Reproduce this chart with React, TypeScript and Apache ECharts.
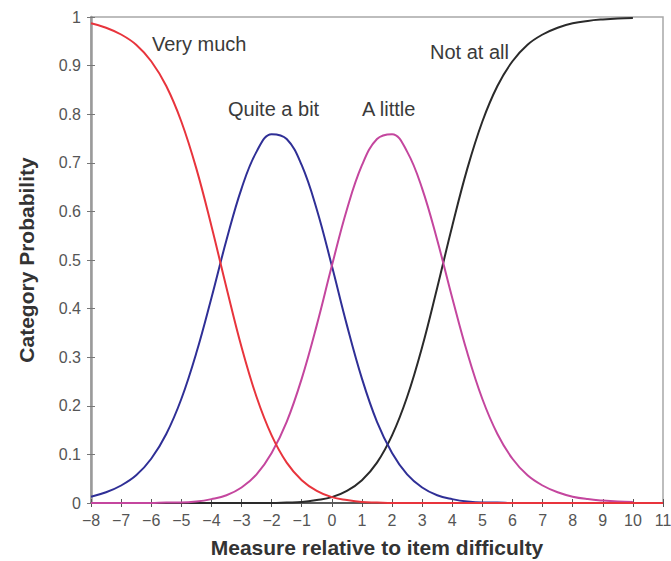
import React, { useEffect, useRef } from "react";
import * as echarts from "echarts";

const xs = [-8, -7.5, -7, -6.5, -6, -5.5, -5, -4.5, -4, -3.5, -3, -2.5, -2, -1.5, -1, -0.5, 0, 0.5, 1, 1.5, 2, 2.5, 3, 3.5, 4, 4.5, 5, 5.5, 6, 6.5, 7, 7.5, 8, 8.5, 9, 9.5, 10, 10.5, 11];

const veryMuch = [0.987, 0.978, 0.964, 0.943, 0.909, 0.858, 0.785, 0.688, 0.57, 0.443, 0.321, 0.218, 0.139, 0.083, 0.047, 0.025, 0.012, 0.006, 0.002, 0.001, 0, 0, 0, 0, 0, 0, 0, 0, 0, 0, 0, 0, 0, 0, 0, 0, 0, 0, 0];
const quiteABit = [0.013, 0.022, 0.036, 0.057, 0.091, 0.142, 0.214, 0.309, 0.422, 0.541, 0.647, 0.723, 0.759, 0.749, 0.695, 0.604, 0.488, 0.366, 0.256, 0.167, 0.103, 0.059, 0.032, 0.016, 0.008, 0.003, 0.001, 0.001, 0, 0, 0, 0, 0, 0, 0, 0, 0, 0, 0];
const aLittle = [0, 0, 0, 0, 0, 0.001, 0.001, 0.003, 0.008, 0.016, 0.032, 0.059, 0.103, 0.167, 0.256, 0.366, 0.488, 0.604, 0.695, 0.749, 0.759, 0.723, 0.647, 0.541, 0.422, 0.309, 0.214, 0.142, 0.091, 0.057, 0.036, 0.022, 0.013, 0.008, 0.005, 0.003, 0.002, null, null];
const notAtAll = [0, 0, 0, 0, 0, 0, 0, 0, 0, 0, 0, 0, 0, 0.001, 0.002, 0.006, 0.012, 0.025, 0.047, 0.083, 0.139, 0.218, 0.321, 0.443, 0.57, 0.688, 0.785, 0.858, 0.909, 0.943, 0.964, 0.978, 0.987, 0.992, 0.995, 0.997, 0.998, null, null];

const seriesNames = ["Not at all", "Quite a bit", "A little", "Very much"];
const seriesValues = [notAtAll, quiteABit, aLittle, veryMuch];
const seriesColors = ["#2a2a2a", "#2f2f96", "#c4469e", "#e8343c"];

const FONT = "Liberation Sans, Arial, sans-serif";

export default function App() {
  const ref = useRef<HTMLDivElement>(null);
  useEffect(() => {
    if (!ref.current) return;
    const chart = echarts.init(ref.current, null, { renderer: "svg" });
    const fmtX = (v: number) => String(v).replace("-", "\u2212");
    const fmtY = (v: number) => String(Math.round(v * 10) / 10);
    const labelStyle = { fontFamily: FONT, fontSize: 20, fill: "#3a3a3a" };
    chart.setOption({
      animation: false,
      backgroundColor: "#ffffff",
      grid: {
        left: 91,
        right: 8,
        top: 17,
        bottom: 58,
        outerBoundsMode: "none",
        containLabel: false,
        show: true,
        borderColor: "#a8a8a8",
        borderWidth: 1.5,
        backgroundColor: "#ffffff",
      },
      xAxis: [
        {
          type: "value",
          min: -8,
          max: 11,
          interval: 1,
          name: "Measure relative to item difficulty",
          nameLocation: "middle",
          nameGap: 34,
          nameTextStyle: { fontFamily: FONT, fontSize: 21, fontWeight: "bold", color: "#333" },
          axisLine: { show: true, onZero: false, lineStyle: { color: "#3a3a3a", width: 1.5 } },
          axisTick: { show: true, length: 4, lineStyle: { color: "#555" } },
          axisLabel: { formatter: fmtX, fontFamily: FONT, fontSize: 16, color: "#555", margin: 9, hideOverlap: false },
          splitLine: { show: false },
        },
        {
          type: "value",
          min: -8,
          max: 11,
          interval: 1,
          position: "bottom",
          axisLine: { show: false, onZero: false },
          axisTick: { show: true, inside: true, length: 4, lineStyle: { color: "#555" } },
          axisLabel: { show: false },
          splitLine: { show: false },
        },
      ],
      yAxis: [
        {
          type: "value",
          min: 0,
          max: 1,
          interval: 0.1,
          name: "Category Probability",
          nameLocation: "middle",
          nameGap: 54,
          nameRotate: 90,
          nameTextStyle: { fontFamily: FONT, fontSize: 21, fontWeight: "bold", color: "#333" },
          axisLine: { show: true, onZero: false, lineStyle: { color: "#9a9a9a", width: 2.5 } },
          axisTick: { show: true, length: 4, lineStyle: { color: "#777" } },
          axisLabel: { formatter: fmtY, fontFamily: FONT, fontSize: 16, color: "#555", margin: 10 },
          splitLine: { show: false },
        },
        {
          type: "value",
          min: 0,
          max: 1,
          interval: 0.1,
          position: "left",
          axisLine: { show: false, onZero: false },
          axisTick: { show: true, inside: true, length: 4, lineStyle: { color: "#777" } },
          axisLabel: { show: false },
          splitLine: { show: false },
        },
      ],
      series: seriesNames.map((name, i) => ({
        name,
        type: "line",
        xAxisIndex: 0,
        yAxisIndex: 0,
        smooth: 0.4,
        showSymbol: false,
        connectNulls: false,
        lineStyle: { color: seriesColors[i], width: 2 },
        itemStyle: { color: seriesColors[i] },
        data: xs.map((x, j) => [x, seriesValues[i][j]]),
      })),
      graphic: [
        { type: "text", left: 152, top: 34, style: { text: "Very much", ...labelStyle } },
        { type: "text", left: 228, top: 99, style: { text: "Quite a bit", ...labelStyle } },
        { type: "text", left: 362, top: 99, style: { text: "A little", ...labelStyle } },
        { type: "text", left: 430, top: 42, style: { text: "Not at all", ...labelStyle } },
      ],
    });
    return () => chart.dispose();
  }, []);
  return <div ref={ref} style={{ width: 671, height: 561, position: "fixed", left: 0, top: 0 }} />;
}
